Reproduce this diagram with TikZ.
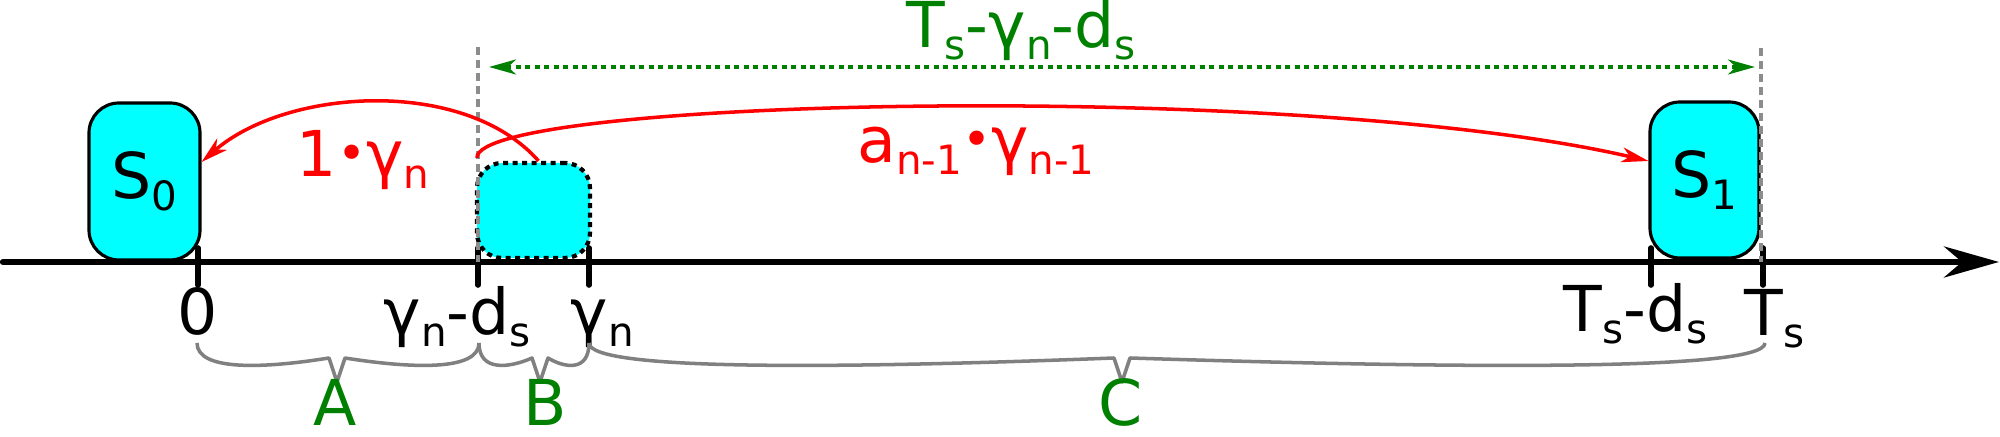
\documentclass[tikz,border=0pt]{standalone}
\usepackage{fontspec}
\setmainfont{DejaVu Sans}
\usetikzlibrary{arrows.meta,calc,positioning}
\definecolor{dkgreen}{RGB}{0,128,0}
\definecolor{slotcyan}{RGB}{0,255,255}

% lowered small text for indices
\newcommand{\subtxt}[1]{\raisebox{-0.12cm}{\fontsize{11.5}{13}\selectfont #1}}
% small product dot
\newcommand{\pdot}{\raisebox{0.065cm}{\fontsize{14}{14}\selectfont •}}
% curly brace under the time axis: from x1 to x2, point at xt
\newcommand{\tbrace}[3]{%
  \draw[bracestyle] (#1,-3.43) .. controls (#1,-3.72) and ($(#1,-3.68)!0.5!(#3,-3.68)$) .. (#3-0.08,-3.58)
    -- (#3,-3.82) -- (#3+0.08,-3.58)
    .. controls ($(#2,-3.68)!0.5!(#3,-3.68)$) and (#2,-3.72) .. (#2,-3.43);}

\begin{document}
\begin{tikzpicture}[
  every node/.style={font=\fontsize{18}{21}\selectfont, inner sep=0pt},
  statebox/.style={draw=black, line width=0.9pt, fill=slotcyan, rounded corners=0.3cm, inner sep=0pt},
  slotbox/.style={statebox, line width=1.2pt, dash pattern=on 0.05cm off 0.045cm, rounded corners=0.25cm},
  ticklet/.style={line width=1.6pt, line cap=round},
  guide/.style={black!45, line width=1pt, dash pattern=on 0.08cm off 0.05cm},
  jump/.style={red, line width=1pt, -{Stealth[length=0.27cm, width=0.15cm, inset=0.08cm]}},
  spanarrow/.style={dkgreen, line width=1pt, dash pattern=on 0.05cm off 0.045cm,
    {Stealth[length=0.27cm, width=0.15cm, inset=0.08cm]}-{Stealth[length=0.27cm, width=0.15cm, inset=0.08cm]}},
  bracestyle/.style={gray, line width=1pt, line join=round},
  timeaxis/.style={line width=1.8pt, line cap=round, -{Stealth[length=0.55cm, width=0.31cm, inset=0.18cm]}}
]
\useasboundingbox (0,0) rectangle (20,-4.37);

% slots
\node[statebox, minimum width=1.11cm, minimum height=1.57cm] (s0) at (1.445,-1.815) {S\subtxt{0}};
\node[statebox, minimum width=1.09cm, minimum height=1.56cm] (s1) at (17.045,-1.80) {S\subtxt{1}};
\node[slotbox, minimum width=1.13cm, minimum height=0.95cm] (slot) at (5.335,-2.105) {};

% time axis and ticks
\coordinate (o) at (0.03,-2.62);
\coordinate (xend) at (19.99,-2.62);
\coordinate (t0) at (1.98,-2.62);
\coordinate (tgd) at (4.78,-2.62);
\coordinate (tg) at (5.89,-2.62);
\coordinate (ttd) at (16.51,-2.62);
\coordinate (tt) at (17.63,-2.62);
\draw[timeaxis] (o) -- (xend);
\foreach \t in {t0,tgd,tg,ttd,tt}
  \draw[ticklet] ($(\t)+(0,0.14)$) -- ($(\t)+(0,-0.23)$);

% guides and window
\coordinate (gl) at (4.78,-0.47);
\coordinate (gr) at (17.61,-0.48);
\draw[guide] (gl) -- (gl |- o);
\draw[guide] (gr) -- (gr |- o);
\coordinate (dl) at (4.89,-0.67);
\coordinate (dr) at (17.55,-0.67);
\draw[spanarrow] (dl) -- (dr);
\node[dkgreen, anchor=base] (dur) at (10.21,-0.48) {T\subtxt{s}-γ\subtxt{n}-d\subtxt{s}};

% jumps
\draw[jump] ([xshift=0.05cm]slot.north) .. controls +(-0.74,0.84) and +(0.85,0.74) .. ([yshift=0.195cm]s0.east);
\draw[jump] ([shift={(0.02,0.03)}]slot.north west) .. controls +(0,0.6) and +(-3.47,0.81) .. ([yshift=0.19cm]s1.west);
\node[red, anchor=base] (w1) at (3.63,-1.77) {1\pdot γ\subtxt{n}};
\node[red, anchor=base] (w2) at (9.76,-1.63) {a\subtxt{n-1}\pdot γ\subtxt{n-1}};

% axis labels
\node[anchor=base] (l0) at (1.98,-3.35) {0};
\node[anchor=base west] (lgd) at (3.83,-3.35) {γ\subtxt{n}-d\subtxt{s}};
\node[anchor=base west] (lg) at (5.70,-3.35) {γ\subtxt{n}};
\node[anchor=base west] (ltd) at (15.63,-3.32) {T\subtxt{s}-d\subtxt{s}};
\node[anchor=base west] (lt) at (17.44,-3.36) {T\subtxt{s}};

% intervals
\tbrace{1.97}{4.79}{3.37}
\tbrace{4.79}{5.89}{5.40}
\tbrace{5.89}{17.65}{11.22}
\node[dkgreen, anchor=base] (la) at (3.35,-4.26) {A};
\node[dkgreen, anchor=base] (lb) at (5.45,-4.26) {B};
\node[dkgreen, anchor=base] (lc) at (11.21,-4.26) {C};

\end{tikzpicture}
\end{document}
